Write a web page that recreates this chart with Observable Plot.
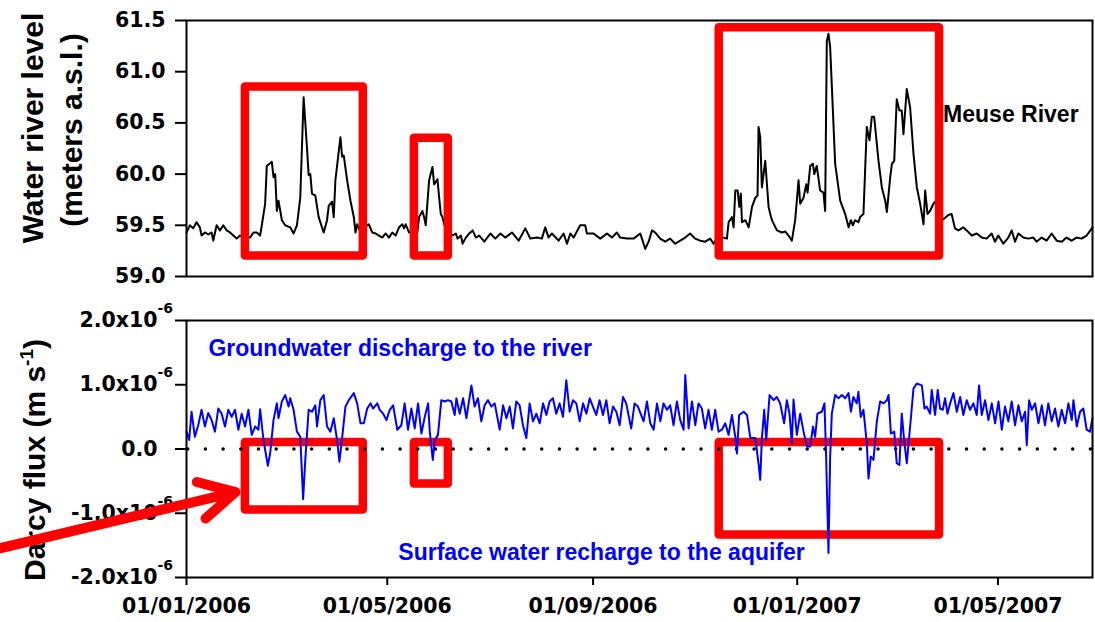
<!DOCTYPE html>
<html><head><meta charset="utf-8">
<script src="https://cdn.jsdelivr.net/npm/d3@7"></script>
<script src="https://cdn.jsdelivr.net/npm/@observablehq/plot@0.6"></script>
<style>
body{margin:0;background:#fff;}
#chart{width:1095px;height:622px;position:relative;overflow:hidden;background:#fff;}
#chart svg{display:block;}
</style></head><body><div id="chart"></div>
<script>
// ---- data (days since 01/01/2006) ----
const startDay = "2006-01-01";
const endDay = 541.5;
const dateTicks = ["2006-01-01","2006-05-01","2006-09-01","2007-01-01","2007-05-01"];
const levelTicks = [59.0, 59.5, 60.0, 60.5, 61.0, 61.5];
const fluxTicks = [-2, -1, 0, 1, 2]; // x10^-6 m s-1

const levelDays = [0,2,4,6,8,9,11,13,15,16,18,20,22,24,26,28,30,32,35,38,40,42,44,45,47,48,51,52,53,54,55,57,59,62,64,66,68,70,72,73,74,75,77,79,82,84,85,87,88,89,92,93,94,96,98,100,101,102,104,106,109,111,113,115,117,119,121,123,125,127,129,130,131,132,133,136,138,139,141,142,143,145,147,148,150,151,152,153,154,156,157,159,161,162,164,165,167,169,171,173,175,178,181.6,184.6,187.6,190.5,194.5,198.5,202.5,205.5,209.5,212.4,214.4,216.4,218.4,222.4,225.4,227.4,229.4,231.4,235.3,238.3,239.3,243.3,247.3,251.3,254.3,257.2,259.2,263.2,267.2,271.2,274.2,276.2,278.2,280.1,283.1,286.1,289.1,292.1,295.1,298.1,301,304,307,310,313,315,318,321,323,324,326,327,328,329.4,330.4,331.3,332,334,336,338,340,341.3,341.9,342.9,343.9,345.9,347.9,348.9,349.9,352.9,355.8,357.8,359.8,361.8,363.8,365.8,366.8,368.8,370.4,371.2,372.8,374.4,375.2,376.7,378.7,380.7,381.7,382.7,383.7,384.7,387.7,390.7,393.7,395.7,397.1,398.3,399.6,401.6,402.6,404.6,406.6,408.2,409.6,411,413.6,415.6,417.6,418.6,420.6,421.6,423,424.5,426.1,427.5,428.5,430.5,432.5,434.5,436.5,438.5,440.5,441.5,442.9,444.4,446.4,447.4,450,452.4,455.4,457.3,459.3,461.3,464.3,466.3,469.3,472.3,475.3,478.2,481.2,483.2,485.2,488.2,491.2,493.2,495.2,497.2,500.2,503.1,506.1,508.1,511.1,514.1,517.1,520.1,523.1,526,529,532,535,538,541.5];
const levelValues = [59.43,59.50,59.47,59.53,59.48,59.40,59.43,59.41,59.43,59.35,59.50,59.45,59.50,59.45,59.43,59.40,59.37,59.40,59.38,59.38,59.43,59.43,59.40,59.50,59.71,60.08,60.12,59.97,60.00,59.64,59.74,59.55,59.50,59.48,59.42,59.50,59.77,60.75,60.26,59.99,60.00,59.81,59.79,59.58,59.43,59.55,59.69,59.73,59.58,59.94,60.36,60.17,60.18,59.94,59.74,59.58,59.43,59.51,59.43,59.48,59.51,59.43,59.42,59.40,59.38,59.42,59.38,59.43,59.40,59.48,59.51,59.47,59.51,59.47,59.43,59.45,59.43,59.58,59.64,59.58,59.50,59.94,60.07,59.90,59.95,59.77,59.61,59.58,59.51,59.45,59.43,59.40,59.42,59.37,59.40,59.32,59.38,59.42,59.45,59.38,59.40,59.34,59.42,59.37,59.42,59.38,59.43,59.35,59.47,59.37,59.38,59.37,59.48,59.38,59.42,59.35,59.42,59.32,59.42,59.38,59.50,59.50,59.42,59.42,59.37,59.42,59.38,59.43,59.38,59.37,59.37,59.42,59.27,59.34,59.45,59.43,59.37,59.34,59.37,59.32,59.35,59.38,59.42,59.37,59.35,59.34,59.37,59.32,59.40,59.38,59.37,59.53,59.58,59.48,59.84,59.84,59.68,59.81,59.53,59.55,59.48,59.68,59.77,59.79,60.46,60.36,59.87,60.13,59.68,59.61,59.55,59.45,59.43,59.44,59.40,59.35,59.55,59.94,59.71,59.77,59.90,59.82,60.08,60.10,60.00,60.08,59.84,59.82,59.64,61.30,61.37,61.24,60.10,59.74,59.61,59.48,59.55,59.50,59.55,59.53,59.58,59.61,60.46,60.33,60.56,60.56,60.13,59.87,59.74,59.63,59.97,60.10,60.13,60.73,60.62,60.62,60.39,60.83,60.65,60.20,59.87,59.71,59.51,59.84,59.61,59.64,59.71,59.73,59.60,59.56,59.60,59.61,59.47,59.45,59.48,59.45,59.40,59.42,59.38,59.37,59.42,59.34,59.40,59.32,59.38,59.45,59.34,59.42,59.38,59.37,59.38,59.34,59.38,59.35,59.42,59.35,59.34,59.38,59.35,59.38,59.37,59.40,59.48];

const fluxDays = [0,1.6,3,5,7,9,11,13,15,17,19,21,23,25,27,29,31,33,35,37,39,41,43,44,46,48.6,50,52,54,55,57,59,61,62,64,66,68,69.7,71,73,75,77,78,80,82,84,86,88,90,91.4,93,95,97,100,102,104,106,108,110,111.5,114,115.5,117.5,119.5,121.5,123.5,126,128.4,130.4,132.4,134.4,136.4,138.4,140.4,142.4,144.4,145.4,147.2,148.4,150.3,152.3,154.3,156.3,158.3,160.3,161.3,163.3,165.3,167.3,170.3,172.2,174.2,176.2,178.2,180.2,182.2,184.2,187.2,189.2,191.2,193.2,195.1,197.1,199.1,201.1,203.1,205.1,207.1,209.1,211.1,213.1,215.1,217,219,221,223,225,227,229,231,233,235,237,239,241,242.9,244.9,246.9,248.9,250.9,252.9,254.9,256.9,258.9,260.9,262.8,265.8,267.8,269.8,273.2,275.2,277.2,279.2,281.2,283.2,285.1,287.1,289.1,291.1,293.1,295.1,297.1,298.1,300.1,302.1,304.1,306,308,310,312,314,316,318,320,322,324,326,328,329,330.3,333,335,337,340,342,342.9,343.9,345.3,346.5,348.5,350.9,352.8,354.8,357.2,358.8,360.4,361.8,362.8,364.8,366.8,368.8,370.8,372.8,374.4,375.7,377.1,379.7,381.3,382.3,383.7,384.7,385.7,387.7,389.7,391.7,393.7,395.7,397.1,398.6,400.6,401.6,403,404.6,406.6,407.6,409,410.6,412.6,414.6,416.6,418.6,419.6,421,423,424.5,426.1,427.5,428.9,430.5,432.5,434.5,436.5,439.5,441.1,442.4,444.4,445.4,447.4,449,450.4,452,453.4,454.8,456.4,458.4,460.4,462.4,464.3,466.3,468.3,470.3,472.3,473.7,475.3,477.3,479.3,481.3,483.3,485.3,487.3,489.2,491.2,493.2,495.2,497.2,499.2,501.2,502.2,503.6,505.2,507.2,509.2,511.2,513.1,515.1,517.1,519.1,521.1,523.1,525.1,527.1,529.1,530.1,532.1,534.1,536,538,540,541.5];
const fluxValues = [0.27,0.14,0.58,0.19,0.37,0.61,0.35,0.56,0.45,0.27,0.63,0.55,0.35,0.61,0.50,0.61,0.30,0.55,0.35,0.61,0.22,0.35,0.30,0.62,0.14,-0.26,-0.07,0.45,0.71,0.48,0.74,0.84,0.66,0.79,0.61,0.27,0.19,-0.78,-0.17,0.61,0.58,0.68,0.35,0.76,0.84,0.35,0.27,0.48,0.14,-0.20,0.17,0.66,0.76,0.87,0.71,0.40,0.40,0.63,0.71,0.63,0.71,0.61,0.55,0.45,0.61,0.68,0.30,0.37,0.71,0.30,0.63,0.32,0.71,0.24,0.50,0.71,0.27,-0.17,0.14,0.22,0.76,0.74,0.76,0.74,0.53,0.79,0.55,0.79,0.48,0.99,0.66,0.79,0.43,0.68,0.76,0.66,0.71,0.30,0.68,0.48,0.66,0.32,0.74,0.68,0.37,0.17,0.71,0.43,0.55,0.40,0.71,0.53,0.74,0.79,0.55,0.71,0.50,1.07,0.58,0.76,0.71,0.43,0.71,0.55,0.79,0.66,0.53,0.76,0.53,0.76,0.40,0.66,0.58,0.37,0.81,0.71,0.32,0.71,0.66,0.43,0.74,0.40,0.30,0.71,0.43,0.71,0.61,0.68,0.37,0.74,0.45,0.30,1.15,0.32,0.74,0.37,0.71,0.63,0.32,0.61,0.30,0.61,0.27,0.30,0.40,0.22,0.53,0.19,-0.07,0.53,0.58,0.53,0.17,0.17,-0.25,-0.48,0.17,0.61,0.14,0.84,0.76,0.81,0.71,0.40,0.76,0.55,0.09,0.77,0.22,0.55,0.27,0.04,0.04,0.35,0.19,0.55,0.58,0.71,-0.12,-1.62,-0.12,0.55,0.84,0.79,0.84,0.79,0.87,0.58,0.81,0.71,0.89,0.50,0.61,0.09,-0.46,-0.12,-0.17,0.43,0.74,0.71,0.76,0.84,0.24,0.27,-0.22,-0.25,0.55,0.14,-0.22,0.35,0.94,1.02,0.99,0.63,0.66,0.55,0.92,0.53,0.92,0.63,0.61,0.79,0.55,0.71,0.87,0.58,0.81,0.53,0.76,0.61,0.71,0.53,0.99,0.53,0.76,0.45,0.71,0.40,0.74,0.30,0.66,0.43,0.74,0.37,0.68,0.43,0.58,0.06,0.76,0.61,0.71,0.40,0.68,0.37,0.71,0.43,0.63,0.35,0.61,0.40,0.71,0.45,0.76,0.35,0.58,0.63,0.30,0.27,0.48];

// highlighted flood periods (red boxes)
const boxStart = [35.2, 136.2, 318.4];
const boxEnd = [105.7, 156.5, 450.1];
const levelBoxLow = [59.2, 59.2, 59.2];
const levelBoxHigh = [60.85, 60.35, 61.43];
const fluxBoxLow = [-0.95, -0.545, -1.34];
const fluxBoxHigh = [0.1, 0.1, 0.1];

// arrow pointing at the first recharge period
const arrowFrom = {day: -130, flux: -1.66};
const arrowTo = {day: 29.3, flux: -0.67};

const labels = {
  river: {text: "Meuse River", day: 452.2, value: 60.58},
  discharge: {text: "Groundwater discharge to the river", day: 13.1, value: 1.57},
  recharge: {text: "Surface water recharge to the aquifer", day: 126.6, value: -1.62}
};

// ---- build ----
const t0 = Date.UTC(2006, 0, 1);
const toDate = d => new Date(t0 + d * 864e5);
const xDomain = [toDate(0), toDate(endDay)];
const tickDates = dateTicks.map(s => new Date(s + "T00:00:00Z"));
const levelData = levelDays.map((d, i) => ({date: toDate(d), value: levelValues[i]}));
const fluxData = fluxDays.map((d, i) => ({date: toDate(d), value: fluxValues[i]}));
const boxes = boxStart.map((s, i) => ({
  x1: toDate(s), x2: toDate(boxEnd[i]),
  l1: levelBoxLow[i], l2: levelBoxHigh[i],
  f1: fluxBoxLow[i], f2: fluxBoxHigh[i]
}));
const RED = "#ff0000", BLUE = "#0000ff";
const tickFont = {fontFamily: "DejaVu Sans", fontWeight: "bold", fontSize: "20.5px"};
const labFont = "Liberation Sans, Arial, sans-serif";

const topPlot = Plot.plot({
  width: 1095, height: 300,
  marginLeft: 186, marginRight: 3, marginTop: 20, marginBottom: 24,
  style: {...tickFont, background: "white", color: "black", overflow: "visible"},
  x: {type: "utc", domain: xDomain, label: null, axis: null},
  y: {domain: [59, 61.5], label: null},
  marks: [
    Plot.axisY(levelTicks, {tickSize: 11, tickPadding: 10, strokeWidth: 2, tickFormat: d3.format(".1f"), label: null}),
    Plot.line(levelData, {x: "date", y: "value", stroke: "black", strokeWidth: 2}),
    Plot.rect(boxes, {x1: "x1", x2: "x2", y1: "l1", y2: "l2", fill: "none", stroke: RED, strokeWidth: 8.5, strokeLinejoin: "round"}),
    Plot.frame({stroke: "black", strokeWidth: 2}),
    Plot.text([labels.river], {x: d => toDate(d.day), y: "value", text: "text", textAnchor: "start",
      fontFamily: labFont, fontWeight: "bold", fontSize: 23, fill: "black"})
  ]
});

const botPlot = Plot.plot({
  width: 1095, height: 322,
  marginLeft: 186, marginRight: 3, marginTop: 20, marginBottom: 45,
  style: {...tickFont, background: "white", color: "black", overflow: "visible"},
  x: {type: "utc", domain: xDomain, label: null},
  y: {domain: [-2, 2], label: null},
  marks: [
    Plot.axisY(fluxTicks, {tickSize: 11, tickPadding: 18, strokeWidth: 2, label: null,
      tickFormat: d => d === 0 ? "0.0" : d.toFixed(1) + "x10"}),
    Plot.axisX(tickDates, {tickSize: 8, tickPadding: 13, strokeWidth: 2, label: null,
      tickFormat: d3.utcFormat("%d/%m/%Y")}),
    Plot.rect(boxes, {x1: "x1", x2: "x2", y1: "f1", y2: "f2", fill: "none", stroke: RED, strokeWidth: 8.5, strokeLinejoin: "round"}),
    Plot.ruleY([0], {stroke: "black", strokeWidth: 3.5, strokeDasharray: "0 17.7", strokeLinecap: "round", strokeDashoffset: -1.7}),
    Plot.line(fluxData, {x: "date", y: "value", stroke: BLUE, strokeWidth: 2}),
    Plot.frame({stroke: "black", strokeWidth: 2}),
    Plot.text([labels.discharge, labels.recharge], {x: d => toDate(d.day), y: "value", text: "text", textAnchor: "start",
      fontFamily: labFont, fontWeight: "bold", fontSize: 23, fill: BLUE}),
    Plot.arrow([{a: arrowFrom, b: arrowTo}], {x1: d => toDate(d.a.day), y1: d => d.a.flux, x2: d => toDate(d.b.day), y2: d => d.b.flux,
      stroke: RED, strokeWidth: 10, headLength: 6, headAngle: 56})
  ]
});

// superscript exponents on flux tick labels
d3.select(botPlot).selectAll('g[aria-label="y-axis tick label"] text').each(function() {
  if (this.textContent.endsWith("x10")) {
    const s = this.cloneNode(false);
    s.textContent = "-6";
    s.setAttribute("text-anchor", "start");
    s.setAttribute("font-size", "14");
    s.setAttribute("dy", "-12");
    this.parentNode.appendChild(s);
  }
});

// axis titles
function title(svg, cx, cy, build) {
  const t = d3.select(svg).insert("text", ":first-child")
    .attr("transform", `translate(${cx},${cy}) rotate(-90)`)
    .attr("text-anchor", "middle")
    .attr("font-family", labFont).attr("font-weight", "bold").attr("font-size", 30)
    .attr("fill", "black");
  build(t);
}
title(topPlot, 43, 128, t => t.text("Water river level"));
title(topPlot, 82, 130, t => t.text("(meters a.s.l.)"));
title(botPlot, 45, 160, t => {
  t.append("tspan").text("Darcy flux (m s");
  t.append("tspan").attr("font-size", 19).attr("dy", -12).text("-1");
  t.append("tspan").attr("dy", 12).text(")");
});

const chart = document.getElementById("chart");
chart.appendChild(topPlot);
chart.appendChild(botPlot);
</script></body></html>
